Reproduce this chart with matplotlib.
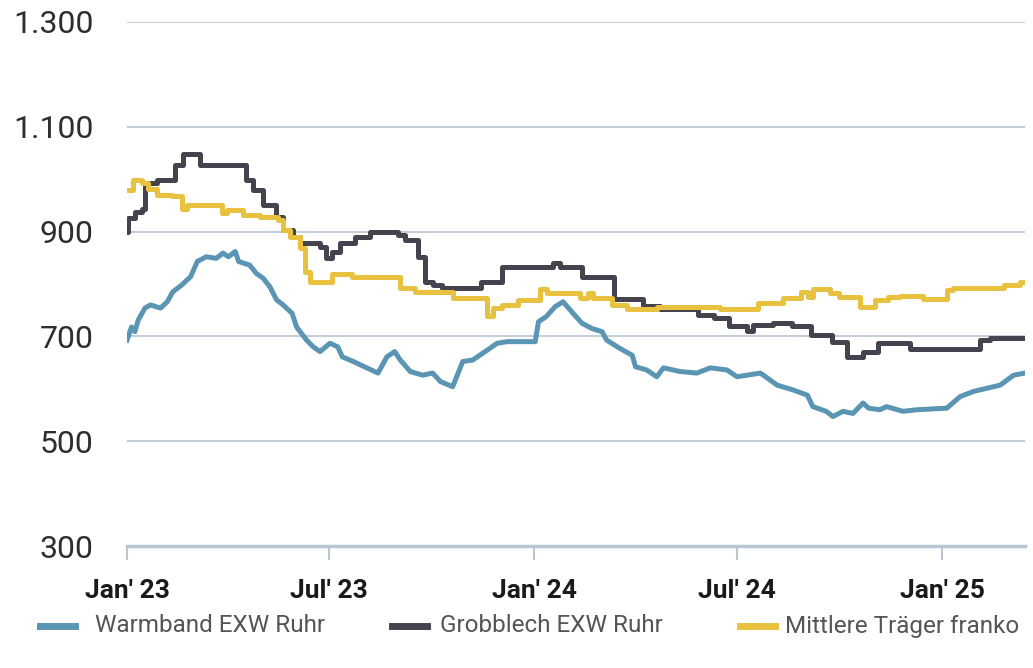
import matplotlib
matplotlib.use("Agg")
import matplotlib.pyplot as plt
import pandas as pd
from matplotlib.lines import Line2D

# Warmband EXW Ruhr (EUR/t)
warm_dates = ["2023-01-01", "2023-01-05", "2023-01-08", "2023-01-11", "2023-01-17", "2023-01-22",
              "2023-01-31", "2023-02-06", "2023-02-11", "2023-02-19", "2023-02-27", "2023-03-05",
              "2023-03-13", "2023-03-22", "2023-03-28", "2023-04-02", "2023-04-08", "2023-04-11",
              "2023-04-21", "2023-04-27", "2023-05-03", "2023-05-09", "2023-05-15", "2023-05-21",
              "2023-05-29", "2023-06-02", "2023-06-11", "2023-06-17", "2023-06-23", "2023-07-02",
              "2023-07-09", "2023-07-13", "2023-07-23", "2023-08-04", "2023-08-14", "2023-08-22",
              "2023-08-29", "2023-09-03", "2023-09-12", "2023-09-23", "2023-10-02", "2023-10-09",
              "2023-10-20", "2023-10-29", "2023-11-07", "2023-11-16", "2023-11-29", "2023-12-08",
              "2023-12-19", "2024-01-02", "2024-01-05", "2024-01-12", "2024-01-20", "2024-01-27",
              "2024-02-05", "2024-02-13", "2024-02-22", "2024-03-02", "2024-03-06", "2024-03-18",
              "2024-03-29", "2024-04-01", "2024-04-11", "2024-04-20", "2024-04-26", "2024-05-11",
              "2024-05-26", "2024-06-07", "2024-06-22", "2024-07-01", "2024-07-22", "2024-08-06",
              "2024-08-20", "2024-09-02", "2024-09-07", "2024-09-19", "2024-09-25", "2024-10-04",
              "2024-10-13", "2024-10-22", "2024-10-27", "2024-11-06", "2024-11-12", "2024-11-27",
              "2024-12-09", "2025-01-05", "2025-01-17", "2025-01-29", "2025-02-10", "2025-02-22",
              "2025-03-06", "2025-03-16"]
warm_vals = [693, 718, 709, 731, 754, 760,
             754, 766, 785, 798, 814, 843,
             852, 849, 859, 852, 862, 843,
             836, 820, 811, 795, 770, 760,
             744, 718, 693, 680, 671, 687,
             680, 661, 652, 640, 630, 661,
             671, 655, 633, 626, 630, 614,
             604, 652, 655, 668, 687, 690,
             690, 690, 728, 738, 757, 766,
             744, 725, 715, 709, 693, 677,
             664, 642, 636, 623, 640, 633,
             630, 640, 636, 623, 630, 607,
             598, 588, 566, 557, 547, 557,
             553, 573, 563, 560, 566, 557,
             560, 563, 585, 595, 601, 607,
             626, 630]

# Grobblech EXW Ruhr (EUR/t)
grob_dates = ["2023-01-01", "2023-01-02", "2023-01-08", "2023-01-14", "2023-01-17", "2023-01-28",
              "2023-02-13", "2023-02-20", "2023-03-07", "2023-04-18", "2023-04-24", "2023-05-03",
              "2023-05-15", "2023-05-21", "2023-05-30", "2023-06-05", "2023-06-23", "2023-06-28",
              "2023-07-04", "2023-07-11", "2023-07-24", "2023-08-07", "2023-09-01", "2023-09-07",
              "2023-09-19", "2023-09-25", "2023-10-02", "2023-10-10", "2023-11-14", "2023-12-03",
              "2024-01-18", "2024-01-24", "2024-02-13", "2024-03-13", "2024-04-08", "2024-04-23",
              "2024-05-27", "2024-06-10", "2024-06-24", "2024-07-10", "2024-07-15", "2024-08-02",
              "2024-08-19", "2024-09-05", "2024-09-24", "2024-10-08", "2024-10-22", "2024-11-04",
              "2024-12-03", "2025-02-04", "2025-02-13", "2025-03-16"]
grob_vals = [900, 925, 938, 944, 992, 998,
             1027, 1049, 1027, 998, 979, 951,
             928, 903, 890, 878, 871, 849,
             862, 878, 890, 900, 894, 884,
             852, 804, 798, 792, 804, 833,
             840, 833, 814, 771, 758, 752,
             741, 735, 720, 710, 722, 725,
             719, 703, 690, 661, 671, 687,
             676, 693, 697, 697]

# Mittlere Träger franko (EUR/t)
trag_dates = ["2023-01-01", "2023-01-06", "2023-01-14", "2023-01-20", "2023-01-28", "2023-02-10",
              "2023-02-19", "2023-02-24", "2023-03-27", "2023-04-01", "2023-04-15", "2023-04-30",
              "2023-05-16", "2023-05-21", "2023-05-27", "2023-06-05", "2023-06-10", "2023-06-14",
              "2023-07-04", "2023-07-22", "2023-09-03", "2023-09-16", "2023-10-20", "2023-11-20",
              "2023-11-25", "2023-12-03", "2023-12-18", "2024-01-06", "2024-01-13", "2024-02-11",
              "2024-02-18", "2024-02-23", "2024-03-11", "2024-03-24", "2024-04-20", "2024-06-16",
              "2024-07-20", "2024-08-11", "2024-08-27", "2024-09-03", "2024-09-07", "2024-09-22",
              "2024-09-30", "2024-10-19", "2024-11-02", "2024-11-13", "2024-11-24", "2024-12-15",
              "2025-01-05", "2025-01-11", "2025-02-25", "2025-03-12", "2025-03-16"]
trag_vals = [979, 998, 992, 982, 970, 967,
             944, 951, 935, 941, 932, 928,
             922, 903, 890, 868, 823, 804,
             820, 814, 792, 785, 773, 738,
             754, 760, 770, 790, 783, 773,
             783, 773, 760, 753, 757, 753,
             763, 773, 784, 776, 790, 783,
             775, 757, 769, 775, 777, 771,
             788, 792, 798, 803, 803]

labels = ["Warmband EXW Ruhr", "Grobblech EXW Ruhr", "Mittlere Träger franko"]
colors = ["#5b95b4", "#46434f", "#e8c13f"]
y_ticks = [300, 500, 700, 900, 1100, 1300]
x_ticks = ["2023-01-01", "2023-07-01", "2024-01-01", "2024-07-01", "2025-01-01"]
x_ticklabels = ["Jan' 23", "Jul' 23", "Jan' 24", "Jul' 24", "Jan' 25"]

grid_col = "#b9c5d0"
W, H = 1033, 668

fig = plt.figure(figsize=(W / 100, H / 100), dpi=100)
ax = fig.add_axes([0.123, 0.1826, 0.869, 0.7845])

ax.plot(pd.to_datetime(warm_dates), warm_vals, color=colors[0], lw=3.6, solid_joinstyle="round")
ax.plot(pd.to_datetime(grob_dates), grob_vals, color=colors[1], lw=3.6, drawstyle="steps-post")
ax.plot(pd.to_datetime(trag_dates), trag_vals, color=colors[2], lw=3.6, drawstyle="steps-post")

ax.set_ylim(300, 1300)
ax.set_xlim(pd.Timestamp("2023-01-01"), pd.Timestamp("2025-03-16"))
ax.set_yticks(y_ticks)
ax.set_yticklabels([f"{v:,}".replace(",", ".") for v in y_ticks])
for v in y_ticks[1:]:
    ax.axhline(v, color=grid_col, lw=1.2, zorder=0)

for s in ["top", "right", "left"]:
    ax.spines[s].set_visible(False)
ax.spines["bottom"].set_color(grid_col)
ax.spines["bottom"].set_linewidth(2.5)

ax.set_xticks(pd.to_datetime(x_ticks))
ax.set_xticklabels(x_ticklabels)
ax.tick_params(axis="x", length=10, width=1.5, color=grid_col, pad=14)
ax.tick_params(axis="y", length=0, pad=24)
for t in ax.get_yticklabels():
    t.set_fontfamily(["Roboto", "DejaVu Sans"])
    t.set_fontsize(23)
    t.set_color("#2e2e2e")
for t in ax.get_xticklabels():
    t.set_fontfamily(["Roboto", "DejaVu Sans"])
    t.set_fontweight("bold")
    t.set_fontsize(19)
    t.set_color("#1a1a1a")

# legend, laid out by hand along the bottom
leg_y = 1 - 626 / H
leg_pos = [(40, 95), (392, 440), (740, 785)]
for (hx, tx), c, lab in zip(leg_pos, colors, labels):
    fig.add_artist(Line2D([hx / W, (hx + 35) / W], [leg_y, leg_y], color=c, lw=5))
    fig.text(tx / W, leg_y, lab, ha="left", va="center", fontsize=17.5,
             family=["Roboto", "DejaVu Sans"], color="#555555")

fig.savefig("out.png", dpi=100)
